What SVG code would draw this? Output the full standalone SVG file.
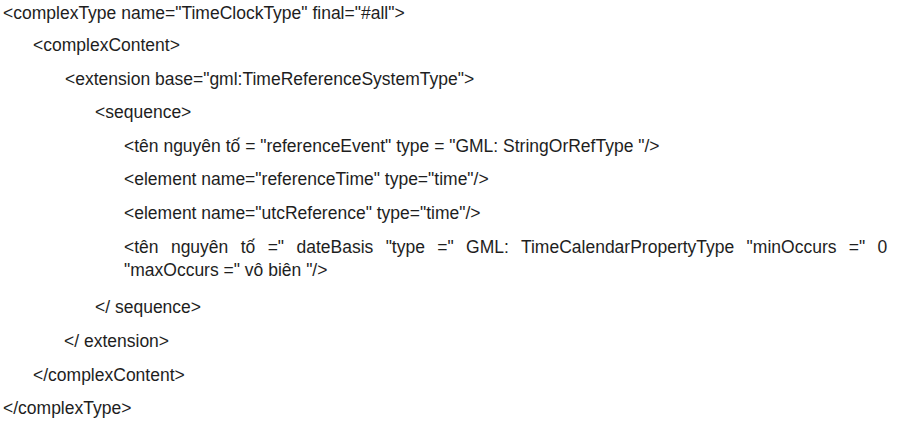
<svg xmlns="http://www.w3.org/2000/svg" width="899" height="426" viewBox="0 0 899 426">
<style>
text{font-family:"Liberation Sans",Arial,sans-serif;font-size:17.5px;fill:#1e1e1e}
</style>
<rect width="899" height="426" fill="#fff"/>
<g id="code">
<text x="3" y="19">&lt;complexType name="TimeClockType" final="#all"&gt;</text>
<text x="33" y="51">&lt;complexContent&gt;</text>
<text x="65" y="85">&lt;extension base="gml:TimeReferenceSystemType"&gt;</text>
<text x="95" y="118">&lt;sequence&gt;</text>
<text x="124" y="152">&lt;tên nguyên tố = "referenceEvent" type = "GML: StringOrRefType "/&gt;</text>
<text x="124" y="185">&lt;element name="referenceTime" type="time"/&gt;</text>
<text x="124" y="219">&lt;element name="utcReference" type="time"/&gt;</text>
<text x="124" y="253" word-spacing="7.5">&lt;tên nguyên tố =" dateBasis "type =" GML: TimeCalendarPropertyType "minOccurs =" 0</text>
<text x="124" y="276">"maxOccurs =" vô biên "/&gt;</text>
<text x="95" y="313">&lt;/ sequence&gt;</text>
<text x="64" y="347">&lt;/ extension&gt;</text>
<text x="33" y="381">&lt;/complexContent&gt;</text>
<text x="3" y="414">&lt;/complexType&gt;</text>
</g>
</svg>
